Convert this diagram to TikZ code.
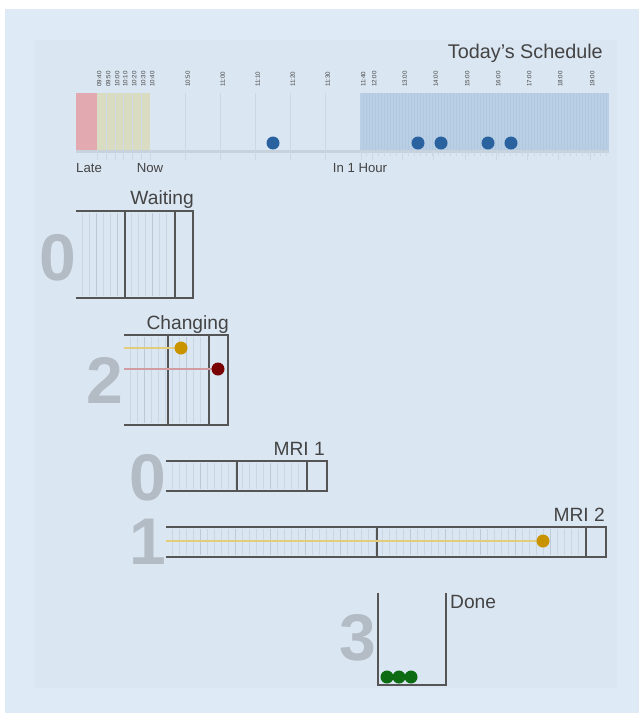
\documentclass[tikz,border=0pt]{standalone}
\usepackage{fontspec}
\setmainfont{Liberation Sans}
\definecolor{outerbg}{HTML}{DEEAF6}
\definecolor{innerbg}{HTML}{DAE6F2}
\definecolor{boxline}{HTML}{555555}
\definecolor{txt}{HTML}{444444}
\definecolor{digit}{HTML}{B3BCC5}
\definecolor{stripe}{HTML}{C9D6E3}
\definecolor{stripedark}{HTML}{BCCAD8}
\definecolor{lateRed}{HTML}{E2A9B0}
\definecolor{nowYellow}{HTML}{D9DCC0}
\definecolor{futureBlue}{HTML}{B9CFE6}
\definecolor{futureStripe}{HTML}{B1C8DF}
\definecolor{baseGray}{HTML}{C7D2DC}
\definecolor{grid}{HTML}{CCD8E3}
\definecolor{dotBlue}{HTML}{2A62A0}
\definecolor{dotGold}{HTML}{C99300}
\definecolor{lineGold}{HTML}{E3CD7C}
\definecolor{dotRed}{HTML}{780000}
\definecolor{lineRed}{HTML}{D19CA2}
\definecolor{dotGreen}{HTML}{0D6B12}
\tikzset{
  boxstroke/.style={draw=boxline, line width=2.9pt},
  title/.style={inner sep=0pt, text=txt, font=\fontsize{19.2}{21}\selectfont},
  axislabel/.style={inner sep=0pt, text=txt, font=\fontsize{13.2}{15}\selectfont},
  ticklabel/.style={inner sep=0pt, text=txt, font=\fontsize{6.2}{7}\selectfont, rotate=90, anchor=west},
  bigdigit/.style={inner sep=0pt, text=digit, font=\fontsize{66}{70}\selectfont\bfseries},
  stripeline/.style={draw=stripe, line width=0.7pt},
  dot/.style={circle, inner sep=0pt, minimum size=13pt},
}
\begin{document}
\begin{tikzpicture}[x=1pt,y=-1pt]
\useasboundingbox (0,0) rectangle (639,713);
\fill[white] (0,0) rectangle (639,713);
\fill[outerbg] (5,9) rectangle (639,713);
\fill[innerbg] (35,40) rectangle (617,688);

% ---------- Timeline ----------
\node[title, anchor=base east, font=\fontsize{19.8}{22}\selectfont] (sched) at (603,58) {Today's Schedule};
\fill[lateRed] (76,93) rectangle (97,151);
\fill[nowYellow] (97,93) rectangle (150,151);
\fill[futureBlue] (360,93) rectangle (609,151);
\foreach \x in {363,366,...,607} \draw[futureStripe, line width=0.35pt] (\x,93) -- (\x,151);
\foreach \x in {106,115,123,132,141} \draw[grid, line width=0.4pt] (\x,93) -- (\x,151);
\foreach \x in {185.5,220.5,255.5,290.5,325.5} \draw[grid, line width=0.6pt] (\x,93) -- (\x,160);
\draw[baseGray, line width=3pt] (76,151) -- (609,151);
\foreach \x in {97,106,115,123,132,141,150,185.5,220.5,255.5,290.5,325.5,361,372,402.5,433.5,465,496,527,558,590} \draw[grid, line width=0.6pt] (\x,151) -- (\x,160);
\foreach \x in {366,372,...,606} \draw[grid, line width=0.4pt] (\x,151) -- (\x,156);
\foreach \x/\t in {97/09:40,106/09:50,115/10:00,123/10:10,132/10:20,141/10:30,150/10:40,185.5/10:50,220.5/11:00,255.5/11:10,290.5/11:20,325.5/11:30,361/11:40,372/12:00,402.5/13:00,433.5/14:00,465/15:00,496/16:00,527/17:00,558/18:00,590/19:00}
  \node[ticklabel] (tick\t) at (\x+2.2,87) {\t};
\foreach \x/\n in {273/a,418/b,441/c,488/d,511/e} \node[dot, fill=dotBlue] (appt\n) at (\x,143) {};
\node[axislabel, anchor=base west] (late) at (76,172) {Late};
\node[axislabel, anchor=base] (now) at (150,172) {Now};
\node[axislabel, anchor=base] (hour) at (360,172) {In 1 Hour};

% ---------- Waiting ----------
\foreach \x in {82,89,...,172} \draw[stripeline] (\x,213) -- (\x,296);
\foreach \x in {96,117,152} \draw[stripedark, line width=0.8pt] (\x,213) -- (\x,296);
\draw[boxstroke] (76,211) -- (193,211) -- (193,298) -- (76,298);
\draw[boxstroke] (125,211) -- (125,298);
\draw[boxstroke] (175,211) -- (175,298);
\node[title, anchor=base east] (waiting) at (194,204) {Waiting};
\node[bigdigit, anchor=base east] (nwaiting) at (76,280) {0};

% ---------- Changing ----------
\foreach \x in {130,137,...,205} \draw[stripeline] (\x,337) -- (\x,423);
\foreach \x in {144,186} \draw[stripedark, line width=0.8pt] (\x,337) -- (\x,423);
\draw[boxstroke] (124,335) -- (228,335) -- (228,425) -- (124,425);
\draw[boxstroke] (168,335) -- (168,425);
\draw[boxstroke] (209,335) -- (209,425);
\draw[lineGold, line width=1.8pt] (124,348) -- (181,348);
\node[dot, fill=dotGold] (cdot1) at (181,348) {};
\draw[lineRed, line width=1.8pt] (124,369) -- (218,369);
\node[dot, fill=dotRed] (cdot2) at (218,369) {};
\node[title, anchor=base east] (changing) at (229,329) {Changing};
\node[bigdigit, anchor=base east] (nchanging) at (123,403) {2};

% ---------- MRI 1 ----------
\foreach \x in {172,179,...,302} \draw[stripeline] (\x,463) -- (\x,489);
\foreach \x in {200,270} \draw[stripedark, line width=0.8pt] (\x,463) -- (\x,489);
\draw[boxstroke] (166,461) -- (327,461) -- (327,491) -- (166,491);
\draw[boxstroke] (237,461) -- (237,491);
\draw[boxstroke] (307,461) -- (307,491);
\node[title, anchor=base east] (mri1) at (325,455) {MRI 1};
\node[bigdigit, anchor=base east] (nmri1) at (166,500) {0};

% ---------- MRI 2 ----------
\foreach \x in {172,179,...,582} \draw[stripeline] (\x,529) -- (\x,555);
\foreach \x in {200,235,270,305,340,410,445,480,515,550} \draw[stripedark, line width=0.8pt] (\x,529) -- (\x,555);
\draw[boxstroke] (166,527) -- (606,527) -- (606,557) -- (166,557);
\draw[boxstroke] (377,527) -- (377,557);
\draw[boxstroke] (586,527) -- (586,557);
\draw[lineGold, line width=1.8pt] (166,541) -- (543,541);
\node[dot, fill=dotGold] (mdot) at (543,541) {};
\node[title, anchor=base east] (mri2) at (605,521) {MRI 2};
\node[bigdigit, anchor=base east] (nmri2) at (166,564) {1};

% ---------- Done ----------
\draw[boxstroke] (378,593) -- (378,685) -- (446,685) -- (446,593);
\foreach \x/\n in {387/a,399/b,411/c} \node[dot, fill=dotGreen] (done\n) at (\x,677) {};
\node[title, anchor=base west] (done) at (450,608) {Done};
\node[bigdigit, anchor=base east] (ndone) at (376,660) {3};
\end{tikzpicture}
\end{document}
